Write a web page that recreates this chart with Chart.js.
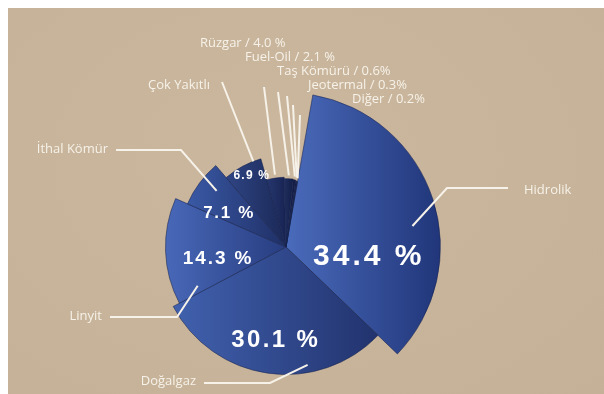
<!DOCTYPE html>
<html>
<head>
<meta charset="utf-8">
<script src="https://cdn.jsdelivr.net/npm/chart.js@4.4.1/dist/chart.umd.min.js"></script>
<style>
  html, body { margin: 0; padding: 0; background: #ffffff; }
  #panel {
    position: absolute; left: 8px; top: 8px; width: 596px; height: 386px;
    background: radial-gradient(ellipse at 45% 40%, #cbb79d 0%, #c8b49a 55%, #c5b197 100%);
  }
</style>
</head>
<body>
<div id="panel"><canvas id="pie"></canvas></div>
<script>
// Electricity generation by source (%)
const sources = ['Hidrolik', 'Doğalgaz', 'Linyit', 'İthal Kömür', 'Çok Yakıtlı',
                 'Rüzgar', 'Fuel-Oil', 'Taş Kömürü', 'Jeotermal', 'Diğer'];
const shares  = [34.4, 30.1, 14.3, 7.1, 6.9, 4.0, 2.1, 0.6, 0.3, 0.2];

// ---- styling -------------------------------------------------------------
// outer radius of each slice relative to the base pie radius
const reach = [1.107, 0.914, 0.864, 0.771, 0.657, 0.50, 0.49, 0.485, 0.48, 0.475];
// left-to-right shading of each slice
const shadeLight = ['#4a6bbb', '#4161ae', '#4868b8', '#3a59a5', '#2f4584',
                    '#26376f', '#1f2e60', '#1b2858', '#1a2756', '#192654'];
const shadeDark  = ['#21367a', '#22336e', '#283d80', '#1f2f66', '#1a2856',
                    '#172352', '#131d45', '#121b40', '#111a3e', '#111a3e'];
// in-slice percentage labels: font size (0 = none), spot along slice, spot along radius
const pctFont   = [30, 24, 19, 17, 12, 0, 0, 0, 0, 0];
const pctAlong  = [0.70, 0.49, 0.35, 0.25, 0.60];
const pctRadial = [0.53, 0.74, 0.58, 0.62, 0.87];
// callouts: where the leader leaves the slice, its path and the text anchor
const callouts = [
  { along: 0.57, radial: 0.83, path: [[439, 180], [500, 180]], text: [516, 182], align: 'left' },
  { along: 0.33, radial: 0.94, path: [[262, 375], [196, 375]], text: [188, 373], align: 'right' },
  { along: 0.08, radial: 0.80, path: [[169, 309], [102, 309]], text: [94, 308], align: 'right' },
  { along: 0.60, radial: 0.83, path: [[173, 142], [108, 142]], text: [100, 141], align: 'right' },
  { along: 0.80, radial: 1.00, path: [[214, 74]], text: [202, 77], align: 'right' },
  { along: 0.50, radial: 1.05, path: [[256, 79]], text: [192, 35], align: 'left' },
  { along: 0.50, radial: 1.05, path: [[270, 84]], text: [237, 49], align: 'left' },
  { along: 0.50, radial: 1.05, path: [[279, 88]], text: [269, 63], align: 'left' },
  { along: 0.50, radial: 1.05, path: [[285, 97]], text: [300, 77], align: 'left' },
  { along: 0.50, radial: 1.05, path: [[292, 107]], text: [344, 91], align: 'left' }
];
// small slices carry their value in the callout text
const calloutPctGap = [null, null, null, null, null, ' ', ' ', '', '', ''];
const inkColor = '#f6f2e9';

function calloutText(i) {
  if (calloutPctGap[i] === null) return sources[i];
  return sources[i] + ' / ' + shares[i].toFixed(1) + calloutPctGap[i] + '%';
}

function pointOn(arc, along, radial) {
  const a = arc.startAngle + (arc.endAngle - arc.startAngle) * along;
  const r = arc.outerRadius * radial;
  return [arc.x + r * Math.cos(a), arc.y + r * Math.sin(a)];
}

// gives every slice its own radius and a horizontal shade
const sliceShaping = {
  id: 'sliceShaping',
  afterDatasetUpdate(chart, args) {
    const meta = args.meta;
    const base = meta.controller.outerRadius;
    const ctx = chart.ctx;
    meta.data.forEach((arc, i) => {
      arc.outerRadius = base * reach[i];
      let minX = arc.x, maxX = arc.x;
      for (let k = 0; k <= 32; k++) {
        const a = arc.startAngle + (arc.endAngle - arc.startAngle) * k / 32;
        const px = arc.x + arc.outerRadius * Math.cos(a);
        minX = Math.min(minX, px); maxX = Math.max(maxX, px);
      }
      const g = ctx.createLinearGradient(minX, 0, maxX + 0.01, 0);
      g.addColorStop(0, shadeLight[i]);
      g.addColorStop(1, shadeDark[i]);
      arc.options.backgroundColor = g;
    });
  }
};

// percentage labels inside slices plus the white callout lines and names
const sliceLabels = {
  id: 'sliceLabels',
  afterDatasetsDraw(chart) {
    const ctx = chart.ctx;
    const arcs = chart.getDatasetMeta(0).data;
    ctx.save();

    // callout leaders
    ctx.strokeStyle = inkColor;
    ctx.lineWidth = 2;
    ctx.lineJoin = 'miter';
    callouts.forEach((c, i) => {
      const p = pointOn(arcs[i], c.along, c.radial);
      ctx.beginPath();
      ctx.moveTo(p[0], p[1]);
      c.path.forEach(q => ctx.lineTo(q[0], q[1]));
      ctx.stroke();
    });

    // callout names
    ctx.fillStyle = inkColor;
    ctx.font = '13px "Open Sans", "Noto Sans", sans-serif';
    ctx.textBaseline = 'middle';
    callouts.forEach((c, i) => {
      ctx.textAlign = c.align;
      ctx.fillText(calloutText(i), c.text[0], c.text[1]);
    });

    // in-slice percentages
    ctx.fillStyle = '#ffffff';
    ctx.textAlign = 'center';
    pctFont.forEach((size, i) => {
      if (!size) return;
      const p = pointOn(arcs[i], pctAlong[i], pctRadial[i]);
      ctx.font = 'bold ' + size + 'px "Liberation Sans", Arial, sans-serif';
      const sp = Math.round(size * 0.1 * 10) / 10;
      ctx.letterSpacing = sp + 'px';
      ctx.fillText(shares[i].toFixed(1) + ' %', p[0] + sp / 2, p[1]);
    });
    ctx.letterSpacing = '0px';
    ctx.restore();
  }
};

new Chart(document.getElementById('pie'), {
  type: 'pie',
  data: {
    labels: sources,
    datasets: [{
      data: shares,
      backgroundColor: (c) => shadeLight[c.dataIndex],
      borderWidth: 1,
      borderColor: 'rgba(22, 34, 80, 0.55)',
      hoverOffset: 0,
      clip: false
    }]
  },
  options: {
    responsive: true,
    maintainAspectRatio: false,
    animation: false,
    events: [],
    rotation: 10,
    layout: { padding: { left: 138, right: 178, top: 99, bottom: 7 } },
    plugins: { legend: { display: false }, tooltip: { enabled: false } }
  },
  plugins: [sliceShaping, sliceLabels]
});
</script>
</body>
</html>
